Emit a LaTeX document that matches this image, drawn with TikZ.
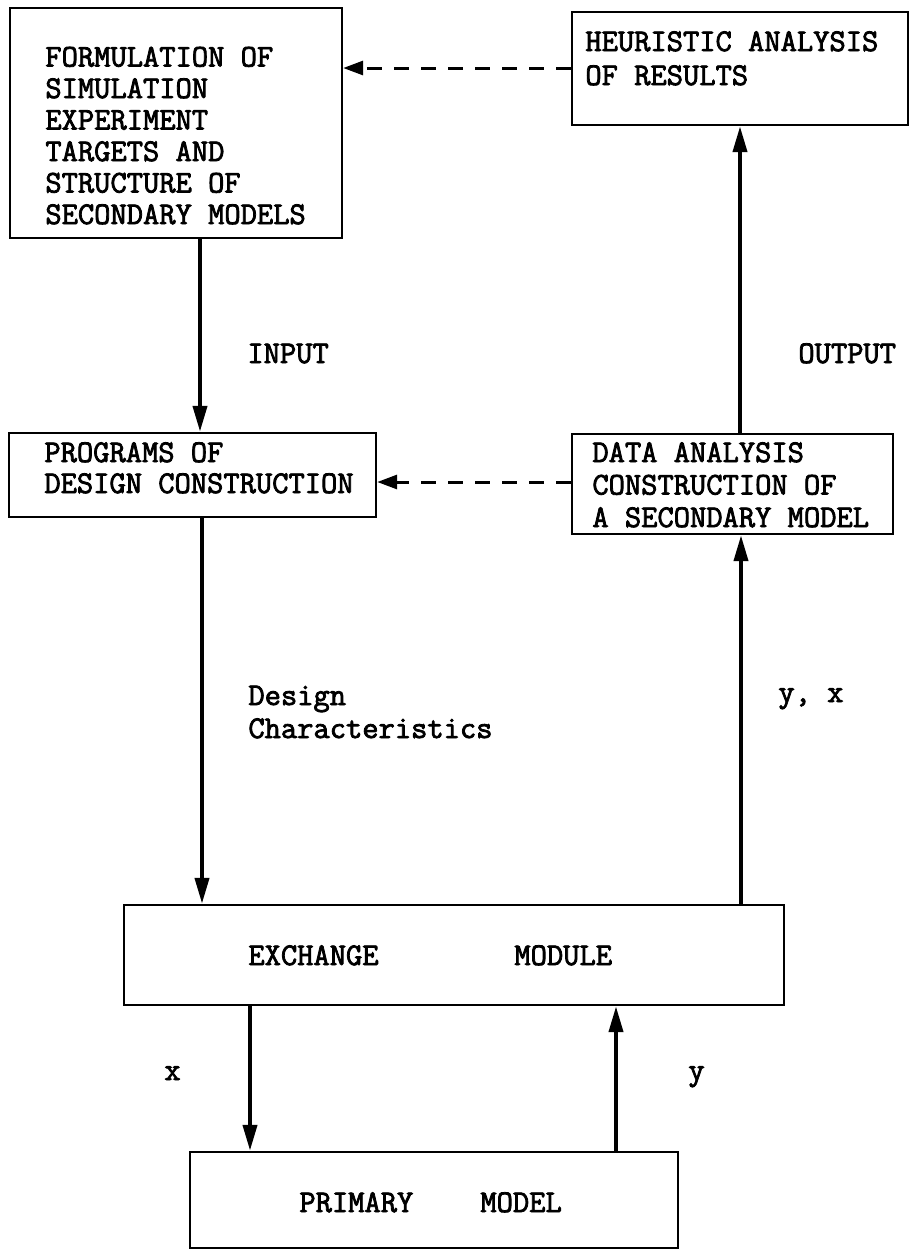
\documentclass[tikz,border=0pt]{standalone}
\usepackage{fontspec}
\setmonofont{Latin Modern Mono}[FakeBold=2.5]
\usetikzlibrary{arrows.meta}
\tikzset{
  box/.style={draw, line width=1.2pt, inner sep=0pt},
  tw/.style={font=\ttfamily\fontsize{15.8}{#1}\selectfont, align=left, anchor=base west, inner sep=0pt},
  tw/.default=15.75,
  arr/.style={line width=2pt, -{Triangle[length=13pt,width=7pt]}},
  darr/.style={line width=1.5pt, dash pattern=on 7.5pt off 6pt, -{Triangle[length=10pt,width=7pt]}},
}
\begin{document}
\begin{tikzpicture}[x=0.5pt,y=-0.5pt]
\useasboundingbox (0,0) rectangle (912,1250);
% boxes
\node[box, minimum width=166pt, minimum height=115pt] (A) at (176,123) {};
\node[box, minimum width=168pt, minimum height=56.5pt] (B) at (740,68.5) {};
\node[box, minimum width=183.5pt, minimum height=42pt] (C) at (192.5,475) {};
\node[box, minimum width=160.5pt, minimum height=50pt] (D) at (732.5,484) {};
\node[box, minimum width=330pt, minimum height=50pt] (E) at (454,955) {};
\node[box, minimum width=244pt, minimum height=48pt] (F) at (434,1200) {};
% box texts (base anchor = baseline of the last line)
\node[tw=15.75] (tA) at (45,224) {FORMULATION OF\\SIMULATION\\EXPERIMENT\\TARGETS AND\\STRUCTURE OF\\SECONDARY MODELS};
\node[tw=17] (tB) at (585,85) {HEURISTIC ANALYSIS\\OF RESULTS};
\node[tw=15.5] (tC) at (44,493) {PROGRAMS OF\\DESIGN CONSTRUCTION};
\node[tw=16.25] (tD) at (592,527) {DATA ANALYSIS\\CONSTRUCTION OF\\A SECONDARY MODEL};
\node[tw] (tE1) at (248,965) {EXCHANGE};
\node[tw] (tE2) at (514,965) {MODULE};
\node[tw] (tF1) at (299,1212) {PRIMARY};
\node[tw] (tF2) at (480,1212) {MODEL};
% connectors
\draw[arr] (A.south -| 200,0) -- (C.north -| 200,0);
\draw[arr] (D.north -| 740,0) -- (B.south -| 740,0);
\draw[arr] (C.south -| 202,0) -- (E.north -| 202,0);
\draw[arr] (E.north -| 741,0) -- (D.south -| 741,0);
\draw[arr] (E.south -| 250,0) -- (F.north -| 250,0);
\draw[arr] (F.north -| 616,0) -- (E.south -| 616,0);
\draw[darr] (B.west |- 0,68) -- (A.east |- 0,68);
\draw[darr] (D.west |- 0,482) -- (C.east |- 0,482);
% connector labels
\node[tw] (lin) at (247,363) {INPUT};
\node[tw] (lout) at (798,363) {OUTPUT};
\node[tw=16.5] (ldc) at (248,738) {Design\\Characteristics};
\node[tw] (lyx) at (778,702) {y, x};
\node[tw] (lx) at (164,1080) {x};
\node[tw] (ly) at (688,1080) {y};
\end{tikzpicture}
\end{document}
